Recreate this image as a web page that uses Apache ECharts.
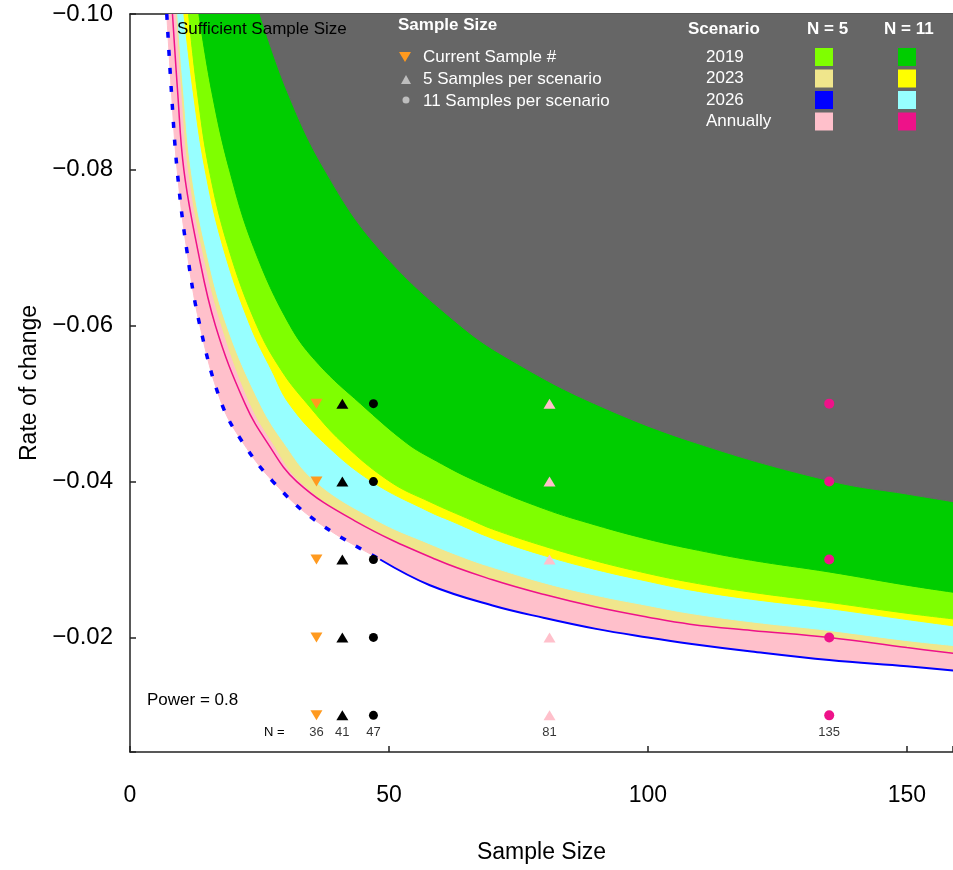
<!DOCTYPE html>
<html>
<head>
    <meta charset="utf-8">
    <style>
        html, body {
            width: 100%;
            height: 100%;
            margin: 0;
            background: #fff;
        }

        #chart-panel {
            width: 953px;
            height: 870px;
        }
    </style>
    <script src="https://cdn.jsdelivr.net/npm/echarts@6/dist/echarts.min.js"></script>
</head>
<body>
<div id="chart-panel"></div>
<script type="text/javascript">

  // band edges, [sample size, rate of change]
  const edge2026n5 = [[7.1, -0.100], [8.0, -0.090], [9.1, -0.080], [10.9, -0.070], [13.5, -0.060], [17.7, -0.050],
    [21.8, -0.045], [27.6, -0.040], [35.8, -0.035], [48.3, -0.030], [57.9, -0.0267], [70, -0.0241], [80, -0.0225],
    [90, -0.0211], [100, -0.0200], [108.1, -0.0192], [120, -0.0182], [135, -0.0171], [150, -0.0163], [160, -0.0157]];
  const edgeAnnualN11 = [[8.2, -0.100], [9.2, -0.090], [10.4, -0.080], [13.0, -0.070], [16.5, -0.060], [22.2, -0.050],
    [26.5, -0.045], [32.2, -0.040], [43.3, -0.035], [59.1, -0.030], [70, -0.0274], [80, -0.0255], [90, -0.0239],
    [100, -0.0226], [108.1, -0.0217], [120, -0.0209], [135, -0.0200], [150, -0.0187], [160, -0.0179]];
  const edgeAnnualN5 = [[9.0, -0.100], [10.0, -0.090], [11.3, -0.080], [13.9, -0.070], [17.7, -0.060], [23.2, -0.050],
    [27.5, -0.045], [32.8, -0.040], [43.6, -0.035], [59.3, -0.030], [70, -0.0275], [80, -0.0256], [90, -0.0240],
    [100, -0.0227], [108.1, -0.0218], [120, -0.0210], [135, -0.0201], [150, -0.0188], [160, -0.0180]];
  const edge2023n5 = [[9.2, -0.100], [10.35, -0.090], [11.8, -0.080], [14.6, -0.070], [18.7, -0.060], [25.1, -0.050],
    [29.7, -0.045], [35.8, -0.040], [47.7, -0.035], [57.9, -0.0320], [65.5, -0.030], [70, -0.0290], [80, -0.0270],
    [90, -0.0254], [100, -0.0241], [108.1, -0.0231], [120, -0.0220], [135, -0.0209], [150, -0.0196], [160, -0.0189]];
  const edge2026n11 = [[10.4, -0.100], [12.2, -0.090], [14.5, -0.080], [18.0, -0.070], [23.2, -0.060], [27.4, -0.0542],
    [30.7, -0.050], [37.4, -0.045], [46.7, -0.040], [57.9, -0.0361], [61.8, -0.035], [70, -0.0327], [80, -0.0305],
    [90, -0.0287], [100, -0.0272], [108.1, -0.0261], [120, -0.0249], [135, -0.0237], [150, -0.0223], [160, -0.0214]];
  const edge2023n11 = [[11.3, -0.100], [13.0, -0.090], [15.3, -0.080], [19.0, -0.070], [24.5, -0.060], [29.3, -0.0542],
    [34.2, -0.050], [41.0, -0.045], [50.2, -0.040], [57.9, -0.0374], [66.1, -0.035], [70, -0.0339], [80, -0.0317],
    [90, -0.0298], [100, -0.0282], [108.1, -0.0271], [120, -0.0258], [135, -0.0245], [150, -0.0231], [160, -0.0223]];
  const edge2019n5 = [[13.3, -0.100], [15.8, -0.090], [19.2, -0.080], [23.9, -0.070], [30.9, -0.060], [36.5, -0.055],
    [44.5, -0.050], [53.3, -0.045], [57.9, -0.0431], [67.0, -0.040], [80, -0.0365], [90, -0.0344], [100, -0.0326],
    [108.1, -0.0314], [120, -0.0299], [135, -0.0284], [150, -0.0267], [160, -0.0257]];
  const edge2019n11 = [[25.1, -0.100], [30.4, -0.090], [37.6, -0.080], [47.9, -0.070], [63.8, -0.060], [75.1, -0.055],
    [89.7, -0.050], [109.1, -0.045], [135.7, -0.040], [150, -0.0384], [160, -0.0373]];

  const rates = [-0.05, -0.04, -0.03, -0.02, -0.01];
  const sampleNs = [36, 41, 47, 81, 135];
  const xTicks = [0, 50, 100, 150];
  const yTicks = [-0.10, -0.08, -0.06, -0.04, -0.02];

  const scenarios = ['2019', '2023', '2026', 'Annually'];
  const n5Colors = ['#7FFF00', '#F0E68C', '#0000FF', '#FFC0CB'];
  const n11Colors = ['#00CD00', '#FFFF00', '#97FFFF', '#EE1289'];
  const markerLabels = ['Current Sample #', '5 Samples per scenario', '11 Samples per scenario'];

  const FONT = '"Liberation Sans", Arial, sans-serif';
  const orange = '#FF9A1F';
  const SMOOTH = 0.4;

  function band(data, color) {
    return {
      type: 'line',
      data: data,
      symbol: 'none',
      smooth: SMOOTH,
      silent: true,
      lineStyle: {color: color, width: 1},
      areaStyle: {color: color, opacity: 1, origin: 'start'}
    };
  }

  function marks(n, symbol, rotate, size, color) {
    return {
      type: 'scatter',
      data: rates.map((r) => [n, r]),
      symbol: symbol,
      symbolRotate: rotate,
      symbolSize: size,
      silent: true,
      itemStyle: {color: color, opacity: 1},
      z: 5
    };
  }

  var series = [
    band(edge2026n5, '#FFC0CB'),
    band(edgeAnnualN5, '#F0E68C'),
    band(edge2023n5, '#97FFFF'),
    band(edge2026n11, '#FFFF00'),
    band(edge2023n11, '#7FFF00'),
    band(edge2019n5, '#00CD00'),
    band(edge2019n11, '#666666'),
    {
      type: 'line', data: edgeAnnualN11, symbol: 'none', smooth: SMOOTH, silent: true,
      lineStyle: {color: '#EE1289', width: 1.5}, z: 3
    },
    {
      // 2026 N=5 edge shows as a broken blue run where it is steep
      type: 'line', data: edge2026n5.slice(0, 10), symbol: 'none', smooth: SMOOTH, silent: true,
      lineStyle: {color: '#0000FF', width: 3.5, type: [6, 12]}, z: 3
    },
    {
      type: 'line', data: edge2026n5.slice(9), symbol: 'none', smooth: SMOOTH, silent: true,
      lineStyle: {color: '#0000FF', width: 2}, z: 3
    },
    marks(sampleNs[0], 'triangle', 180, [12, 10], orange),
    marks(sampleNs[1], 'triangle', 0, [12, 10], '#000'),
    marks(sampleNs[2], 'circle', 0, 9, '#000'),
    marks(sampleNs[3], 'triangle', 0, [12, 10], '#FFC0CB'),
    marks(sampleNs[4], 'circle', 0, 10, '#EE1289'),
    {
      // the "N =" row under the markers
      type: 'scatter',
      data: sampleNs.map((n) => [n, -0.0078]),
      symbolSize: 0,
      silent: true,
      label: {
        show: true, position: 'inside', color: '#000', fontSize: 13, fontFamily: FONT,
        formatter: (p) => String(p.value[0])
      },
      z: 5
    }
  ];

  var graphic = [
    {type: 'text', x: 177, y: 29, z: 10,
      style: {text: 'Sufficient Sample Size', fill: '#000', font: '17px ' + FONT, verticalAlign: 'middle'}},
    {type: 'text', x: 147, y: 700, z: 10,
      style: {text: 'Power = 0.8', fill: '#000', font: '17px ' + FONT, verticalAlign: 'middle'}},
    {type: 'text', x: 264, y: 732, z: 10,
      style: {text: 'N =', fill: '#000', font: '13px ' + FONT, verticalAlign: 'middle'}},
    {type: 'text', x: 398, y: 25, z: 10,
      style: {text: 'Sample Size', fill: '#fff', font: 'bold 17px ' + FONT, verticalAlign: 'middle'}},
    {type: 'polygon', z: 10, shape: {points: [[399, 52], [411, 52], [405, 62]]}, style: {fill: orange}},
    {type: 'polygon', z: 10, shape: {points: [[401, 84], [411, 84], [406, 75]]}, style: {fill: '#BEBEBE'}},
    {type: 'circle', z: 10, shape: {cx: 406, cy: 100, r: 3.5}, style: {fill: '#BEBEBE'}},
    {type: 'text', x: 688, y: 29, z: 10,
      style: {text: 'Scenario', fill: '#fff', font: 'bold 17px ' + FONT, verticalAlign: 'middle'}},
    {type: 'text', x: 807, y: 29, z: 10,
      style: {text: 'N = 5', fill: '#fff', font: 'bold 17px ' + FONT, verticalAlign: 'middle'}},
    {type: 'text', x: 884, y: 29, z: 10,
      style: {text: 'N = 11', fill: '#fff', font: 'bold 17px ' + FONT, verticalAlign: 'middle'}}
  ];
  markerLabels.forEach((t, i) => {
    graphic.push({type: 'text', x: 423, y: 57 + i * 22, z: 10,
      style: {text: t, fill: '#fff', font: '17px ' + FONT, verticalAlign: 'middle'}});
  });
  scenarios.forEach((s, i) => {
    let cy = 57 + i * 21.5;
    graphic.push({type: 'text', x: 706, y: cy, z: 10,
      style: {text: s, fill: '#fff', font: '17px ' + FONT, verticalAlign: 'middle'}});
    graphic.push({type: 'rect', z: 10, shape: {x: 815, y: cy - 9, width: 18, height: 18}, style: {fill: n5Colors[i]}});
    graphic.push({type: 'rect', z: 10, shape: {x: 898, y: cy - 9, width: 18, height: 18}, style: {fill: n11Colors[i]}});
  });

  var myChart = echarts.init(document.getElementById('chart-panel'));

  var option = {
    animation: false,
    backgroundColor: '#fff',
    grid: {left: 130, right: 0, top: 14, bottom: 118, outerBoundsMode: 'none'},
    xAxis: [{
      type: 'value',
      min: 0,
      max: 158.9,
      interval: 50,
      name: 'Sample Size',
      nameLocation: 'middle',
      nameGap: 89,
      nameTextStyle: {fontSize: 23, color: '#000', fontFamily: FONT},
      axisLine: {show: true, lineStyle: {color: '#222', width: 1.5}},
      axisTick: {show: true, inside: true, length: 6, lineStyle: {color: '#222', width: 1.5}},
      axisLabel: {
        margin: 32, fontSize: 23, color: '#000', fontFamily: FONT,
        formatter: (v) => xTicks.indexOf(v) >= 0 ? String(v) : ''
      },
      splitLine: {show: false}
    }, {
      type: 'value',
      position: 'top',
      min: 0,
      max: 158.9,
      axisLine: {show: true, onZero: false, lineStyle: {color: '#222', width: 1.5}},
      axisTick: {show: false},
      axisLabel: {show: false},
      splitLine: {show: false}
    }],
    yAxis: {
      type: 'value',
      inverse: true,
      min: -0.10,
      max: -0.0053,
      interval: 0.02,
      name: 'Rate of change',
      nameLocation: 'middle',
      nameGap: 84,
      nameTextStyle: {fontSize: 23, color: '#000', fontFamily: FONT},
      axisLine: {show: true, onZero: false, lineStyle: {color: '#222', width: 1.5}},
      axisTick: {show: true, inside: true, length: 6, lineStyle: {color: '#222', width: 1.5}},
      axisLabel: {
        margin: 17, fontSize: 24, color: '#000', fontFamily: FONT,
        formatter: (v) => yTicks.some((t) => Math.abs(t - v) < 1e-9) ? '\u2212' + Math.abs(v).toFixed(2) : ''
      },
      splitLine: {show: false}
    },
    graphic: graphic,
    series: series
  };

  myChart.setOption(option);
</script>
</body>
</html>
